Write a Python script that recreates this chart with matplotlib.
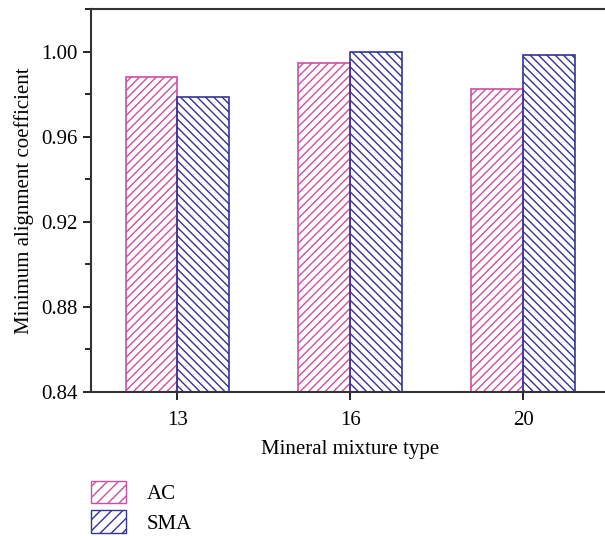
import numpy as np
import matplotlib.pyplot as plt
from matplotlib.patches import Patch
from matplotlib.ticker import MultipleLocator

types = ['13', '16', '20']
ac = [0.9882, 0.9944, 0.9826]
sma = [0.9788, 1.0000, 0.9986]

pink = '#cc4fa0'
navy = '#33339a'

plt.rcParams['font.family'] = ['Liberation Serif', 'DejaVu Serif']
plt.rcParams['hatch.linewidth'] = 1.0

fig = plt.figure(figsize=(6.05, 5.36), dpi=100)
ax = fig.add_axes([91 / 605, 1 - 392 / 536, 518.5 / 605, 383 / 536])

x = np.arange(len(types))
w = 0.3
plt.rcParams['hatch.color'] = pink
ax.bar(x - w / 2, ac, w, bottom=0, fill=False, edgecolor=pink, hatch='////', linewidth=1.2)
plt.rcParams['hatch.color'] = navy
ax.bar(x + w / 2, sma, w, bottom=0, fill=False, edgecolor=navy, hatch='\\\\\\\\', linewidth=1.2)

ax.set_xlim(-0.5, 2.5)
ax.set_ylim(0.84, 1.02)
ax.set_xticks(x)
ax.set_xticklabels(types)
ax.set_yticks([0.84, 0.88, 0.92, 0.96, 1.00])
ax.set_yticklabels(['0.84', '0.88', '0.92', '0.96', '1.00'])
ax.yaxis.set_minor_locator(MultipleLocator(0.02))
ax.tick_params(axis='both', which='major', length=6, width=1.2, labelsize=15, direction='out')
ax.tick_params(axis='y', which='minor', length=4, width=1.2)
ax.tick_params(axis='x', pad=8)
for s in ax.spines.values():
    s.set_linewidth(1.5)
    s.set_color('#333333')

ax.set_xlabel('Mineral mixture type', fontsize=15, labelpad=7)
ax.set_ylabel('Minimum alignment coefficient', fontsize=15, labelpad=5)

handles = [Patch(facecolor='white', edgecolor=pink, hatch='///', label='AC'),
           Patch(facecolor='white', edgecolor=navy, hatch='///', label='SMA')]
fig.legend(handles=handles, loc='upper left', bbox_to_anchor=(72 / 605, 1 - 462 / 536),
           frameon=False, fontsize=15, handlelength=1.7, handleheight=1.3,
           handletextpad=1.0, labelspacing=0.3)

fig.savefig('out.png', dpi=100)
